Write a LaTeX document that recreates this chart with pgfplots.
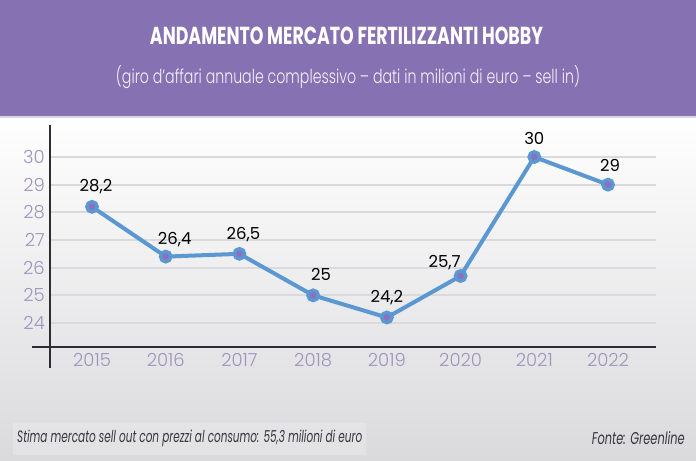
\documentclass[border=0pt]{standalone}
\usepackage{fontspec}
\setmainfont{Poppins}
\newfontfamily\lightfont{Poppins Light}
\usepackage{graphicx}
\usepackage{pgfplots}
\pgfplotsset{compat=1.18}
\definecolor{hdr}{RGB}{134,114,178}
\definecolor{hdrline}{RGB}{220,212,236}
\definecolor{subt}{RGB}{244,240,250}
\definecolor{bgb}{RGB}{218,218,221}
\definecolor{lineblue}{RGB}{91,152,210}
\definecolor{mkc}{RGB}{140,112,192}
\definecolor{tickc}{RGB}{158,148,188}
\definecolor{axc}{RGB}{45,45,50}
\definecolor{foot}{RGB}{55,55,60}
\definecolor{gridc}{RGB}{218,218,220}
\begin{document}
\begin{tikzpicture}
\shade[top color=white, bottom color=bgb] (0bp,0bp) rectangle (696bp,345bp);
\fill[white, opacity=0.2] (13bp,6bp) rectangle (366bp,38bp);
\fill[hdr] (0bp,345bp) rectangle (696bp,461bp);
\fill[hdrline] (0bp,343bp) rectangle (696bp,345bp);
\node[anchor=base, text=white, inner sep=0pt] at (346.5bp,416bp)
  {\resizebox{393bp}{17.5bp}{\bfseries ANDAMENTO MERCATO FERTILIZZANTI HOBBY}};
\node[anchor=base, text=subt, inner sep=0pt] at (348bp,377bp)
  {\resizebox{464bp}{18bp}{\lightfont (giro d’affari annuale complessivo – dati in milioni di euro – sell in)}};
\node[anchor=base west, text=foot, inner sep=0pt] at (17bp,18bp)
  {\resizebox{345bp}{12.5bp}{\itshape Stima mercato sell out con prezzi al consumo: 55,3 milioni di euro}};
\node[anchor=base east, text=foot, inner sep=0pt] at (685bp,17bp)
  {\resizebox{93bp}{13bp}{\itshape Fonte: Greenline}};
\begin{axis}[
  at={(50bp,114bp)}, anchor=south west,
  scale only axis, width=606bp, height=222bp,
  xmin=2014.43, xmax=2022.651, ymin=23.133, ymax=31.157,
  axis line style={draw=none},
  major tick length=0pt,
  xtick={2015,2016,2017,2018,2019,2020,2021,2022},
  xticklabels={2015,2016,2017,2018,2019,2020,2021,2022},
  ytick={24,25,26,27,28,29,30},
  yticklabels={24,25,26,27,28,29,30},
  ymajorgrids, xmajorgrids=false,
  grid style={gridc, line width=1.8bp},
  xticklabel style={font=\lightfont\fontsize{18bp}{20bp}\selectfont, text=tickc, anchor=north, inner sep=0pt, yshift=-6bp},
  yticklabel style={font=\lightfont\fontsize{18bp}{20bp}\selectfont, text=tickc, anchor=east, inner sep=0pt, xshift=-5bp},
  clip=false,
]
\addplot[color=lineblue, line width=4bp, mark=*, mark size=5.2bp,
  mark options={draw=lineblue, fill=mkc, line width=3.4bp},
  nodes near coords, point meta=explicit symbolic,
  visualization depends on={\thisrow{dx} \as \dx},
  visualization depends on={\thisrow{dy} \as \dy},
  nodes near coords style={anchor=base, inner sep=0pt, xshift=\dx bp, yshift=\dy bp, text=black, font=\fontsize{16.5bp}{19bp}\selectfont}]
table[x=x, y=y, meta=lab] {
x y lab dx dy
2015 28.2 28,2 4 15
2016 26.4 26,4 9 12
2017 26.5 26,5 4 14
2018 25 25 8 15
2019 24.2 24,2 0 15
2020 25.7 25,7 -16 8
2021 30 30 0 13
2022 29 29 2 13
};
\end{axis}
\draw[axc, line width=1.3bp] (32bp,114bp) -- (656bp,114bp);
\draw[axc, line width=1.3bp] (50bp,336bp) -- (50bp,93bp);
\pgfresetboundingbox
\path (0bp,0bp) rectangle (696bp,461bp);
\end{tikzpicture}
\end{document}
